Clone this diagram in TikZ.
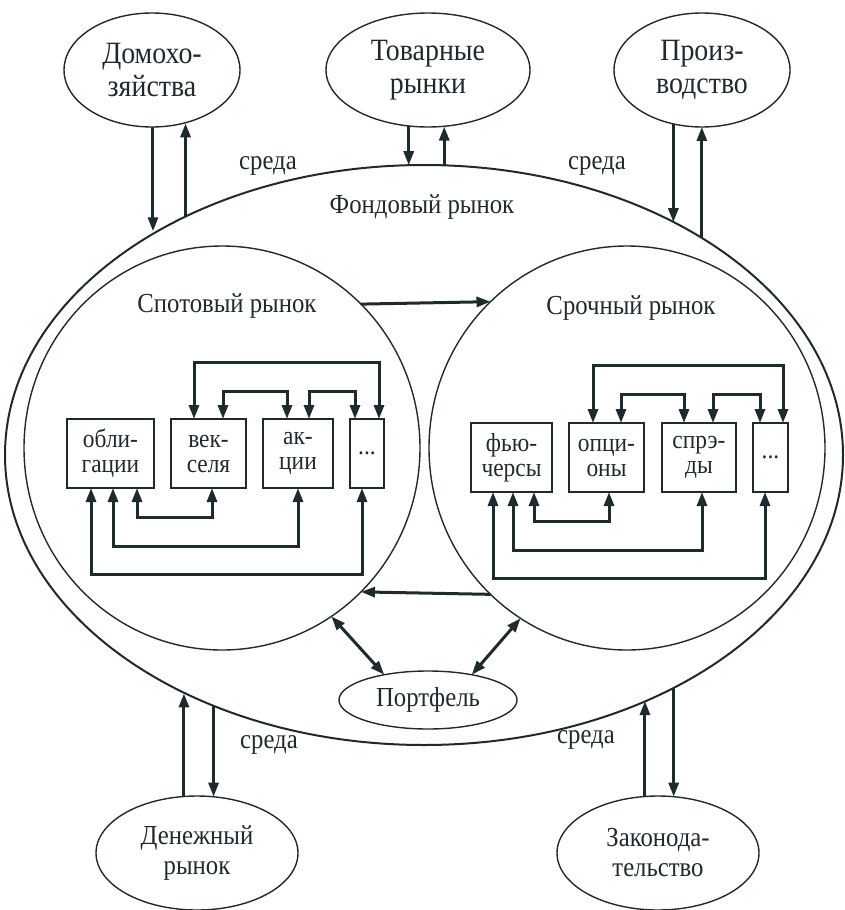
\documentclass[tikz,border=0pt]{standalone}
\usepackage{fontspec}
\setmainfont[FakeStretch=0.9]{Liberation Serif}
\usepackage{xcolor}
\usetikzlibrary{arrows.meta,shapes.geometric}
\definecolor{ink}{HTML}{1E2A2E}

\begin{document}
\begin{tikzpicture}[x=1pt, y=-1pt,
  every node/.style={font=\fontsize{27.5}{30}\selectfont, text=ink},
  env/.style={ellipse, draw=ink, line width=1.4pt, inner sep=0pt, outer sep=0pt, align=center},
  topenv/.style={env, minimum height=114pt, font=\fontsize{31}{33}\selectfont},
  mkt/.style={ellipse, draw=ink, line width=1.4pt, inner sep=0pt, outer sep=0pt,
              minimum width=396pt, minimum height=404pt},
  instr/.style={rectangle, draw=ink, line width=2pt, inner sep=0pt, outer sep=0pt,
              minimum height=69pt, align=center, font=\fontsize{26}{25}\selectfont},
  arr/.style={-{Triangle[length=14pt,width=10pt]}, line width=3pt, ink},
  dbl/.style={{Triangle[length=14pt,width=10pt]}-{Triangle[length=14pt,width=10pt]}, line width=3pt, ink}
]
  \useasboundingbox (0,0) rectangle (844,910);
  % ---- stock market and its two parts ----
  \node[ellipse, draw=ink, line width=2pt, inner sep=0pt, outer sep=0pt,
        minimum width=838pt, minimum height=580pt] (fond) at (424,455) {};
  \node (fondlbl) at (422,207) {Фондовый рынок};
  \node[mkt] (spot) at (222,448) {};
  \node[mkt] (srok) at (627,448) {};
  \node (spotlbl) at (227,306) {Спотовый рынок};
  \node (sroklbl) at (631,308) {Срочный рынок};
  % ---- surrounding markets ----
  \node[topenv, minimum width=176pt] (dom)  at (152,70) {Домохо-\\зяйства};
  \node[topenv, minimum width=204pt] (tov)  at (428,70) {Товарные\\рынки};
  \node[topenv, minimum width=176pt] (proz) at (702,70) {Произ-\\водство};
  \node[env, minimum width=202pt, minimum height=114pt] (den)  at (197,853) {Денежный\\рынок};
  \node[env, minimum width=202pt, minimum height=114pt] (zak)  at (658,853) {Законода-\\тельство};
  \node[env, minimum width=178pt, minimum height=58pt]  (port) at (428,700) {Портфель};
  \node (sr1) at (268,166) {среда};
  \node (sr2) at (597,166) {среда};
  \node (sr3) at (269,745) {среда};
  \node (sr4) at (586,740) {среда};
  % ---- exchange with the environment ----
  \draw[arr] (dom.-89) -- (dom.-89 |- fond.140.7);
  \draw[arr] (fond.135.6) -- (fond.135.6 |- dom.-60.8);
  \draw[arr] (tov.-109.7) -- (tov.-109.7 |- fond.93.16);
  \draw[arr] (fond.86.84) -- (fond.86.84 |- tov.-78);
  \draw[arr] (proz.-118.3) -- (proz.-118.3 |- fond.43.16);
  \draw[arr] (fond.38.2) -- (fond.38.2 |- proz.-91);
  \draw[arr] (den.103.9) -- (den.103.9 |- fond.-135.4);
  \draw[arr] (fond.-130.3) -- (fond.-130.3 |- den.75.1);
  \draw[arr] (zak.103.9) -- (zak.103.9 |- fond.-48.3);
  \draw[arr] (fond.-43.16) -- (fond.-43.16 |- zak.75.1);
  % ---- spot, futures and portfolio ----
  \draw[arr] (spot.46.9) -- (srok.133.1);
  \draw[arr] (srok.-133.6) -- (spot.-46.4);
  \draw[dbl] (spot.-57.3) -- (port.150);
  \draw[dbl] (srok.-122.7) -- (port.30);
  % ---- spot instruments ----
  \node[instr, minimum width=87pt] (obl)   at (110.5,453.5) {обли-\\гации};
  \node[instr, minimum width=75pt] (vek)   at (208.5,453.5) {век-\\селя};
  \node[instr, minimum width=70pt] (akc)   at (298,453.5)   {ак-\\ции};
  \node[instr, minimum width=34pt] (dotsa) at (367,453.5)   {...};
  \draw[dbl] ([xshift=-14.5pt]vek.north) -- ++(0,-57) -| ([xshift=12pt]dotsa.north);
  \draw[dbl] ([xshift=14.5pt]vek.north) -- ++(0,-28) -| ([xshift=-11pt]akc.north);
  \draw[dbl] ([xshift=11pt]akc.north) -- ++(0,-28) -| ([xshift=-12pt]dotsa.north);
  \draw[dbl] ([xshift=26.5pt]obl.south) -- ++(0,29) -| ([xshift=3.5pt]vek.south);
  \draw[dbl] ([xshift=2.5pt]obl.south) -- ++(0,58) -| (akc.south);
  \draw[dbl] ([xshift=-19.5pt]obl.south) -- ++(0,86) -| ([xshift=-5pt]dotsa.south);
  % ---- derivatives ----
  \node[instr, minimum width=81pt] (fut)   at (511.5,457.5) {фью-\\черсы};
  \node[instr, minimum width=75pt] (opc)   at (606.5,457.5) {опци-\\оны};
  \node[instr, minimum width=74pt] (spr)   at (699,457.5)   {спрэ-\\ды};
  \node[instr, minimum width=35pt] (dotsb) at (770.5,457.5) {...};
  \draw[dbl] ([xshift=-13.5pt]opc.north) -- ++(0,-58) -| ([xshift=12.5pt]dotsb.north);
  \draw[dbl] ([xshift=14.5pt]opc.north) -- ++(0,-29) -| ([xshift=-15pt]spr.north);
  \draw[dbl] ([xshift=14pt]spr.north) -- ++(0,-29) -| ([xshift=-10.5pt]dotsb.north);
  \draw[dbl] ([xshift=22.5pt]fut.south) -- ++(0,29) -| ([xshift=2.5pt]opc.south);
  \draw[dbl] ([xshift=1.5pt]fut.south) -- ++(0,58) -| ([xshift=3pt]spr.south);
  \draw[dbl] ([xshift=-18.5pt]fut.south) -- ++(0,86) -| ([xshift=-5.5pt]dotsb.south);
\end{tikzpicture}
\end{document}
